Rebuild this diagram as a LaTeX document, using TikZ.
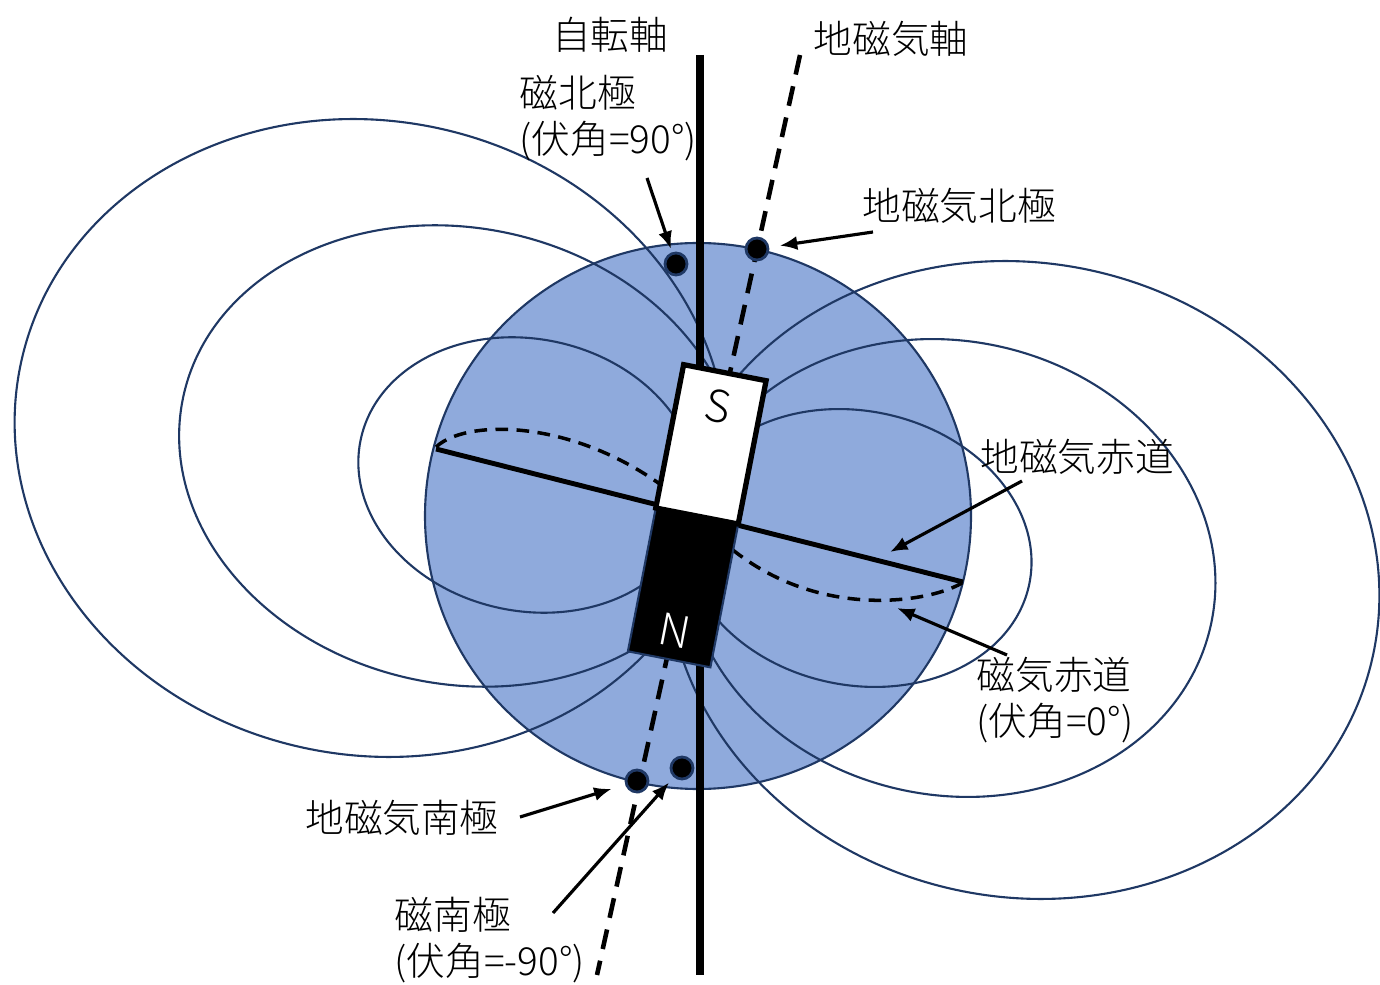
\documentclass[tikz,border=0pt]{standalone}
\usepackage{fontspec}
\setmainfont{Noto Sans CJK JP}[UprightFont=* Light]
\usetikzlibrary{arrows.meta}
\definecolor{globe}{HTML}{8FAADC}
\definecolor{navy}{HTML}{1F3864}
\tikzset{
 fieldline/.style={navy,line width=0.6pt},
 pole/.style={circle,fill=black,draw=navy,line width=0.8pt,inner sep=0pt,minimum size=0.22cm},
 lbl/.style={font=\fontsize{11}{13}\selectfont,inner sep=0pt},
 pointer/.style={->,line width=0.9pt},
}
\begin{document}
\begin{tikzpicture}[>={Latex[length=5pt,width=4pt]}]
 \useasboundingbox (0,0) rectangle (13.8,9.84);
 % globe and field lines
 \filldraw[fill=globe,draw=navy,line width=0.6pt] (6.98,4.68) circle (2.73);
 \foreach \cx/\cy/\ra/\rb in {3.71/5.46/3.58/3.17,4.60/5.28/2.83/2.28,5.28/5.09/1.71/1.36,
   10.23/4.04/3.58/3.17,9.50/4.16/2.67/2.27,8.57/4.36/1.76/1.37}
  \draw[fieldline] (\cx,\cy) circle[x radius=\ra,y radius=\rb,rotate=-12];
 % axes and equators
 \coordinate (spin-top) at (7.00,9.29);
 \coordinate (spin-bot) at (7.00,0.09);
 \coordinate (gax-top) at (8.00,9.29);
 \coordinate (gax-bot) at (5.97,0.09);
 \coordinate (geq-w) at (4.36,5.35);
 \coordinate (geq-e) at (9.63,4.02);
 \draw[line width=2.5pt] (spin-top) -- (spin-bot);
 \draw[line width=1.3pt,dash pattern=on 5.7pt off 3.4pt] (gax-top) -- (gax-bot);
 \draw[line width=1.4pt] (geq-w) -- (geq-e);
 \draw[line width=1pt,dash pattern=on 3.6pt off 2.4pt] (4.36,5.37)
  .. controls (4.70,5.69) and (6.00,5.64) .. (6.98,4.68)
  .. controls (7.90,3.59) and (9.25,3.79) .. (9.62,4.01);
 % bar magnet
 \begin{scope}[shift={(6.97,4.68)},rotate=-11]
  \filldraw[fill=black,draw=navy,line width=0.6pt] (-0.42,-1.46) rectangle (0.42,0);
  \filldraw[fill=white,draw=black,line width=1.5pt] (-0.42,0) rectangle (0.42,1.46);
  \node[lbl,transform shape,font=\fontsize{12.5}{14}\selectfont] (spole) at (0,1.12) {S};
  \node[lbl,transform shape,white,font=\fontsize{12.5}{14}\selectfont] (npole) at (0,-1.17) {N};
 \end{scope}
 % poles on the surface
 \node[pole] (mnp) at (6.76,7.20) {};
 \node[pole] (gnp) at (7.57,7.35) {};
 \node[pole] (gsp) at (6.37,2.03) {};
 \node[pole] (msp) at (6.82,2.16) {};
 % labels
 \node[lbl] (spin) at (6.10,9.49) {自転軸};
 \node[lbl] (gax) at (8.91,9.45) {地磁気軸};
 \node[lbl,anchor=west,align=left] (mnp-lbl) at (5.19,8.66) {磁北極\\(伏角=90°)};
 \node[lbl] (gnp-lbl) at (9.59,7.78) {地磁気北極};
 \node[lbl] (geq-lbl) at (10.77,5.27) {地磁気赤道};
 \node[lbl,anchor=west,align=left] (meq-lbl) at (9.76,2.84) {磁気赤道\\(伏角=0°)};
 \node[lbl] (gsp-lbl) at (4.02,1.66) {地磁気南極};
 \node[lbl,anchor=west,align=left] (msp-lbl) at (3.94,0.44) {磁南極\\(伏角=-90°)};
 % pointers
 \coordinate (mnp-tail) at (6.47,8.06);
 \coordinate (gnp-tail) at (8.73,7.52);
 \coordinate (geq-tail) at (10.22,5.03);
 \coordinate (geq-tip) at (8.90,4.32);
 \coordinate (meq-tail) at (10.07,3.29);
 \coordinate (meq-tip) at (8.97,3.76);
 \coordinate (gsp-tail) at (5.20,1.67);
 \coordinate (msp-tail) at (5.53,0.71);
 \draw[pointer,shorten >=1pt] (mnp-tail) -- (mnp);
 \draw[pointer,shorten >=3pt] (gnp-tail) -- (gnp);
 \draw[pointer] (geq-tail) -- (geq-tip);
 \draw[pointer] (meq-tail) -- (meq-tip);
 \draw[pointer,shorten >=4pt] (gsp-tail) -- (gsp);
 \draw[pointer,shorten >=2pt] (msp-tail) -- (msp);
\end{tikzpicture}
\end{document}
